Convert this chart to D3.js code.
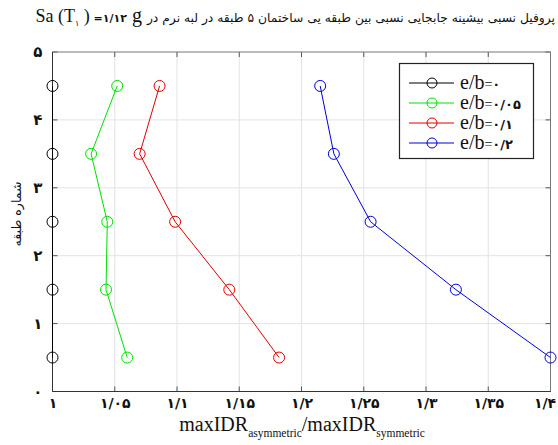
<!DOCTYPE html>
<html>
<head>
<meta charset="utf-8">
<script src="https://cdn.jsdelivr.net/npm/d3@7"></script>
<style>
  html, body { margin: 0; padding: 0; background: #fff; }
  svg { display: block; }
</style>
</head>
<body>
<svg id="chart" width="558" height="445"></svg>
<script>
// Storey levels (mid-height of each storey)
const storeys = [0.5, 1.5, 2.5, 3.5, 4.5];

// Drift ratio maxIDR(asymmetric) / maxIDR(symmetric) for each eccentricity
const eb0   = [1.000, 1.000, 1.000, 1.000, 1.000];
const eb005 = [1.060, 1.043, 1.044, 1.031, 1.052];
const eb01  = [1.182, 1.142, 1.0985, 1.070, 1.086];
const eb02  = [1.400, 1.324, 1.2555, 1.226, 1.215];

const seriesNames  = ["e/b=", "e/b=", "e/b=", "e/b="];
const seriesSuffix = ["۰", "۰/۰۵", "۰/۱", "۰/۲"];
const seriesColors = ["#000000", "#00e000", "#e00000", "#0000e0"];

const xTicks = [1, 1.05, 1.1, 1.15, 1.2, 1.25, 1.3, 1.35, 1.4];
const xTickLabels = ["۱", "۱/۰۵", "۱/۱", "۱/۱۵", "۱/۲", "۱/۲۵", "۱/۳", "۱/۳۵", "۱/۴"];
const yTicks = [0, 1, 2, 3, 4, 5];
const yTickLabels = ["۰", "۱", "۲", "۳", "۴", "۵"];

const allSeries = [eb0, eb005, eb01, eb02];

const svg = d3.select("#chart");
const plotL = 52.5, plotR = 550.5, plotT = 52, plotB = 391.5;

const x = d3.scaleLinear().domain([1, 1.4]).range([plotL, plotR]);
const y = d3.scaleLinear().domain([0, 5]).range([plotB, plotT]);

const persianFont = "'DejaVu Sans', sans-serif";
const serifFont = "'Liberation Serif', 'Times New Roman', serif";

// Grid
const grid = svg.append("g");
grid.selectAll("line.gx").data(xTicks.slice(1, -1)).enter().append("line")
  .attr("x1", d => x(d)).attr("x2", d => x(d))
  .attr("y1", plotT).attr("y2", plotB)
  .attr("stroke", "#e3e3e3").attr("stroke-width", 1);
grid.selectAll("line.gy").data(yTicks.slice(1, -1)).enter().append("line")
  .attr("x1", plotL).attr("x2", plotR)
  .attr("y1", d => y(d)).attr("y2", d => y(d))
  .attr("stroke", "#e3e3e3").attr("stroke-width", 1);

// Inward tick marks on all four sides
const tickLen = 5;
const ticks = svg.append("g").attr("stroke", "#555").attr("stroke-width", 1);
xTicks.forEach(t => {
  ticks.append("line").attr("x1", x(t)).attr("x2", x(t)).attr("y1", plotB).attr("y2", plotB - tickLen);
  ticks.append("line").attr("x1", x(t)).attr("x2", x(t)).attr("y1", plotT).attr("y2", plotT + tickLen);
});
yTicks.forEach(t => {
  ticks.append("line").attr("x1", plotL).attr("x2", plotL + tickLen).attr("y1", y(t)).attr("y2", y(t));
  ticks.append("line").attr("x1", plotR).attr("x2", plotR - tickLen).attr("y1", y(t)).attr("y2", y(t));
});

// Frame
svg.append("line").attr("x1", plotL).attr("x2", plotR).attr("y1", plotT).attr("y2", plotT).attr("stroke", "#777");
svg.append("line").attr("x1", plotR).attr("x2", plotR).attr("y1", plotT).attr("y2", plotB).attr("stroke", "#777");
svg.append("line").attr("x1", plotL).attr("x2", plotR).attr("y1", plotB).attr("y2", plotB).attr("stroke", "#333");
svg.append("line").attr("x1", plotL).attr("x2", plotL).attr("y1", plotT).attr("y2", plotB).attr("stroke", "#333");

// Axes with d3 (labels only; ticks drawn above)
const xAxis = d3.axisBottom(x).tickValues(xTicks).tickSize(0).tickPadding(7)
  .tickFormat((d, i) => xTickLabels[i]);
const gx = svg.append("g").attr("transform", `translate(0,${plotB})`).call(xAxis);
gx.select(".domain").remove();
gx.selectAll("text").attr("font-family", persianFont).attr("font-size", 14)
  .attr("font-weight", "bold").attr("fill", "#111");
// keep the last label inside the page
gx.selectAll("text").filter((d, i) => i === xTicks.length - 1).attr("dx", -6);

const yAxis = d3.axisLeft(y).tickValues(yTicks).tickSize(0).tickPadding(10)
  .tickFormat((d, i) => yTickLabels[i]);
const gy = svg.append("g").attr("transform", `translate(${plotL},0)`).call(yAxis);
gy.select(".domain").remove();
gy.selectAll("text").attr("font-family", persianFont).attr("font-size", 15)
  .attr("font-weight", "bold").attr("fill", "#111");

// Series
const line = d3.line().x(d => x(d[0])).y(d => y(d[1]));
allSeries.forEach((vals, i) => {
  const pts = vals.map((v, k) => [v, storeys[k]]);
  const g = svg.append("g");
  g.append("path").datum(pts).attr("d", line)
    .attr("fill", "none").attr("stroke", seriesColors[i]).attr("stroke-width", 1);
  g.selectAll("circle").data(pts).enter().append("circle")
    .attr("cx", d => x(d[0])).attr("cy", d => y(d[1])).attr("r", 5.5)
    .attr("fill", "none").attr("stroke", seriesColors[i]).attr("stroke-width", 1);
});

// Legend
const lg = svg.append("g");
lg.append("rect").attr("x", 399.5).attr("y", 63.5).attr("width", 134).attr("height", 95)
  .attr("fill", "#fff").attr("stroke", "#222").attr("stroke-width", 1.2);
seriesNames.forEach((name, i) => {
  const ly = 83 + i * 20;
  lg.append("line").attr("x1", 409).attr("x2", 454).attr("y1", ly).attr("y2", ly)
    .attr("stroke", seriesColors[i]).attr("stroke-width", 1);
  lg.append("circle").attr("cx", 432).attr("cy", ly).attr("r", 5)
    .attr("fill", "none").attr("stroke", seriesColors[i]).attr("stroke-width", 1);
  const t = lg.append("text").attr("x", 460).attr("y", ly + 6).attr("fill", "#111");
  t.append("tspan").attr("font-family", serifFont).attr("font-size", 20).text(name.slice(0, 3));
  t.append("tspan").attr("font-family", serifFont).attr("font-size", 14).text(name.slice(3));
  t.append("tspan").attr("font-family", persianFont).attr("font-size", 13).attr("font-weight", "bold")
    .text(seriesSuffix[i]);
});

// Title: Persian part on the right, Latin formula on its left
const titleY = 22;
const tPers = svg.append("text").attr("x", 555).attr("y", titleY)
  .attr("text-anchor", "end").attr("font-family", persianFont).attr("font-size", 12.3).attr("fill", "#111")
  .text("پروفیل نسبی بیشینه جابجایی نسبی بین طبقه یی ساختمان ۵ طبقه در لبه نرم در");
const persW = tPers.node().getComputedTextLength();
const tLat = svg.append("text").attr("x", 555 - persW - 5).attr("y", titleY)
  .attr("text-anchor", "end").attr("fill", "#111").attr("direction", "ltr");
tLat.append("tspan").attr("font-family", serifFont).attr("font-size", 18).text("Sa (T");
tLat.append("tspan").attr("font-family", persianFont).attr("font-size", 8).attr("dy", 4).text("۱");
tLat.append("tspan").attr("font-family", serifFont).attr("font-size", 18).attr("dy", -4).text(" )");
tLat.append("tspan").attr("font-family", persianFont).attr("font-size", 11).attr("font-weight", "bold").text(" =۱/۱۲");
tLat.append("tspan").attr("font-family", serifFont).attr("font-size", 20).text(" g");

// Y axis label
svg.append("text").attr("transform", "translate(21,214) rotate(-90)")
  .attr("text-anchor", "middle").attr("font-family", persianFont).attr("font-size", 12.5)
  .attr("fill", "#111").text("شماره طبقه");

// X axis label
const xl = svg.append("text").attr("x", 302).attr("y", 431).attr("text-anchor", "middle")
  .attr("font-family", serifFont).attr("fill", "#111");
xl.append("tspan").attr("font-size", 20).text("maxIDR");
xl.append("tspan").attr("font-size", 11.5).attr("dy", 6).text("asymmetric");
xl.append("tspan").attr("font-size", 20).attr("dy", -6).text("/maxIDR");
xl.append("tspan").attr("font-size", 11.5).attr("dy", 6).text("symmetric");
</script>
</body>
</html>
